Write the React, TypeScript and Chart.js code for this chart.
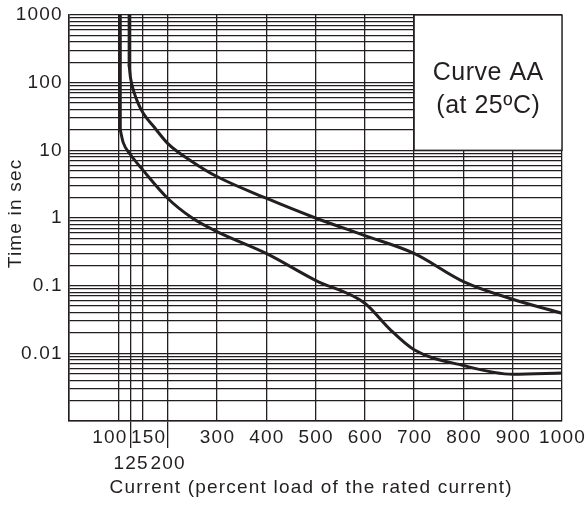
import React, { useEffect, useRef } from 'react';
import { Chart, registerables } from 'chart.js';

Chart.register(...registerables);

// ---- data ----
// first two points of each curve form its vertical part
const upperCurrent = [122, 122, 125, 132, 140, 150, 175, 200, 250, 300, 400, 500, 600, 700, 800, 900, 1000];
const upperTime = [1000, 180, 115, 72, 50, 36, 21, 12.7, 6.8, 4.1, 1.96, 1.0, 0.55, 0.30, 0.115, 0.063, 0.039];

const lowerCurrent = [104, 104, 110, 125, 150, 200, 250, 300, 400, 500, 600, 650, 700, 800, 900, 1000];
const lowerTime = [1000, 20, 13, 8.6, 5.1, 1.96, 1.0, 0.63, 0.3, 0.12, 0.055, 0.023, 0.0113, 0.0066, 0.0049, 0.0051];

const xGridValues = [0, 100, 125, 150, 200, 300, 400, 500, 600, 700, 800, 900, 1000];
const xLabelRow1 = [100, 150, 300, 400, 500, 600, 700, 800, 900, 1000];
const xLabelRow2 = [125, 200];
const xExtendedTicks = [125, 200];
const yLabelValues = [1000, 100, 10, 1, 0.1, 0.01];
const yLabelTexts = ['1000', '100', '10', '1', '0.1', '0.01'];
const yDecades = [-3, -2, -1, 0, 1, 2];
const yMantissas = [1, 2, 3, 4, 5, 6, 7, 8, 9];
const xTitle = 'Current (percent load of the rated current)';
const yTitle = 'Time in sec';
const boxLines = ['Curve AA', '(at 25ºC)'];
const boxCurrentRange = [700, 1000];
const boxTimeRange = [10, 1000];

const INK = '#231f20';
const FONT = '"Liberation Sans", Arial, Helvetica, sans-serif';

function drawText(
  ctx: CanvasRenderingContext2D,
  text: string,
  x: number,
  y: number,
  size: number,
  align: CanvasTextAlign,
  spacing: number
) {
  ctx.save();
  ctx.font = `${size}px ${FONT}`;
  ctx.fillStyle = INK;
  ctx.textAlign = align;
  ctx.textBaseline = 'middle';
  (ctx as any).letterSpacing = `${spacing}px`;
  let dx = 0;
  if (align === 'center') dx = spacing / 2;
  if (align === 'right') dx = spacing;
  ctx.fillText(text, x + dx, y);
  ctx.restore();
}

const annotationPlugin = {
  id: 'annotations',
  beforeDatasetsDraw(chart: any) {
    const ctx: CanvasRenderingContext2D = chart.ctx;
    const xs = chart.scales.x;
    const ys = chart.scales.y;
    const l = xs.getPixelForValue(boxCurrentRange[0]);
    const r = xs.getPixelForValue(boxCurrentRange[1]);
    const t = ys.getPixelForValue(boxTimeRange[1]);
    const b = ys.getPixelForValue(boxTimeRange[0]);
    ctx.save();
    ctx.fillStyle = '#ffffff';
    ctx.fillRect(l, t, r - l, b - t);
    ctx.strokeStyle = INK;
    ctx.lineWidth = 1.4;
    ctx.strokeRect(l, t, r - l, b - t);
    ctx.restore();
    const cx = (l + r) / 2;
    drawText(ctx, boxLines[0], cx, t + 58, 25, 'center', 0.5);
    drawText(ctx, boxLines[1], cx, t + 91, 25, 'center', 0.5);
  },
  afterDraw(chart: any) {
    const ctx: CanvasRenderingContext2D = chart.ctx;
    const xs = chart.scales.x;
    const ys = chart.scales.y;
    const area = chart.chartArea;
    yLabelValues.forEach((v, i) => {
      drawText(ctx, yLabelTexts[i], area.left - 7.5, ys.getPixelForValue(v), 19, 'right', 1.2);
    });
    const shift: Record<number, number> = { 100: -9, 150: 5 };
    xLabelRow1.forEach((v) => {
      drawText(ctx, String(v), xs.getPixelForValue(v) + (shift[v] || 0), area.bottom + 17, 19, 'center', 1.2);
    });
    xLabelRow2.forEach((v) => {
      drawText(ctx, String(v), xs.getPixelForValue(v), area.bottom + 43, 19, 'center', 1.2);
    });
    drawText(ctx, xTitle, (area.left + area.right) / 2 - 5, area.bottom + 67, 19, 'center', 1.2);
    ctx.save();
    ctx.translate(16, (area.top + area.bottom) / 2 - 4);
    ctx.rotate(-Math.PI / 2);
    drawText(ctx, yTitle, 0, 0, 19, 'center', 1.2);
    ctx.restore();
  },
};

function toPoints(xs: number[], ys: number[]) {
  return xs.map((x, i) => ({ x, y: ys[i] }));
}

function lineSet(label: string, data: { x: number; y: number }[], smooth: boolean) {
  return {
    label,
    data,
    borderColor: INK,
    borderWidth: 3,
    pointRadius: 0,
    tension: smooth ? 0.4 : 0,
    cubicInterpolationMode: smooth ? 'monotone' : 'default',
    borderCapStyle: 'round',
    borderJoinStyle: 'round',
    fill: false,
  };
}

export default function App() {
  const canvasRef = useRef<HTMLCanvasElement | null>(null);

  useEffect(() => {
    document.body.style.margin = '0';
    const canvas = canvasRef.current;
    if (!canvas) return;
    const yGridValues: number[] = [];
    yDecades.forEach((e) => yMantissas.forEach((m) => yGridValues.push(parseFloat((m * Math.pow(10, e)).toPrecision(6)))));
    yGridValues.push(1000);

    const upper = toPoints(upperCurrent, upperTime);
    const lower = toPoints(lowerCurrent, lowerTime);

    const chart = new Chart(canvas, {
      type: 'line',
      data: {
        datasets: [
          lineSet('upper vertical', upper.slice(0, 2), false),
          lineSet('upper', upper.slice(1), true),
          lineSet('lower vertical', lower.slice(0, 2), false),
          lineSet('lower', lower.slice(1), true),
        ],
      },
      options: {
        animation: false,
        responsive: false,
        maintainAspectRatio: false,
        layout: { padding: { top: 15, right: 25, left: 0, bottom: 0 } },
        plugins: { legend: { display: false }, tooltip: { enabled: false }, title: { display: false } },
        scales: {
          x: {
            type: 'linear',
            min: 0,
            max: 1000,
            afterBuildTicks: (s: any) => {
              s.ticks = xGridValues.map((value) => ({ value }));
            },
            afterFit: (s: any) => {
              s.height = 84;
            },
            ticks: { display: false },
            grid: {
              color: INK,
              lineWidth: 1.3,
              drawTicks: true,
              tickLength: 27,
              tickWidth: 1.3,
              tickColor: (c: any) => (c.tick && xExtendedTicks.includes(c.tick.value) ? INK : 'rgba(0,0,0,0)'),
            },
            border: { display: true, color: INK, width: 1.5 },
          },
          y: {
            type: 'logarithmic',
            min: 0.001,
            max: 1000,
            afterBuildTicks: (s: any) => {
              s.ticks = yGridValues.map((value) => ({ value }));
            },
            afterFit: (s: any) => {
              s.width = 69;
            },
            ticks: { display: false },
            grid: { color: INK, lineWidth: 1.3, drawTicks: false },
            border: { display: true, color: INK, width: 1.5 },
          },
        },
      },
      plugins: [annotationPlugin],
    } as any);
    return () => chart.destroy();
  }, []);

  return (
    <div style={{ width: 587, height: 505 }}>
      <canvas ref={canvasRef} width={587} height={505} style={{ display: 'block' }} />
    </div>
  );
}
